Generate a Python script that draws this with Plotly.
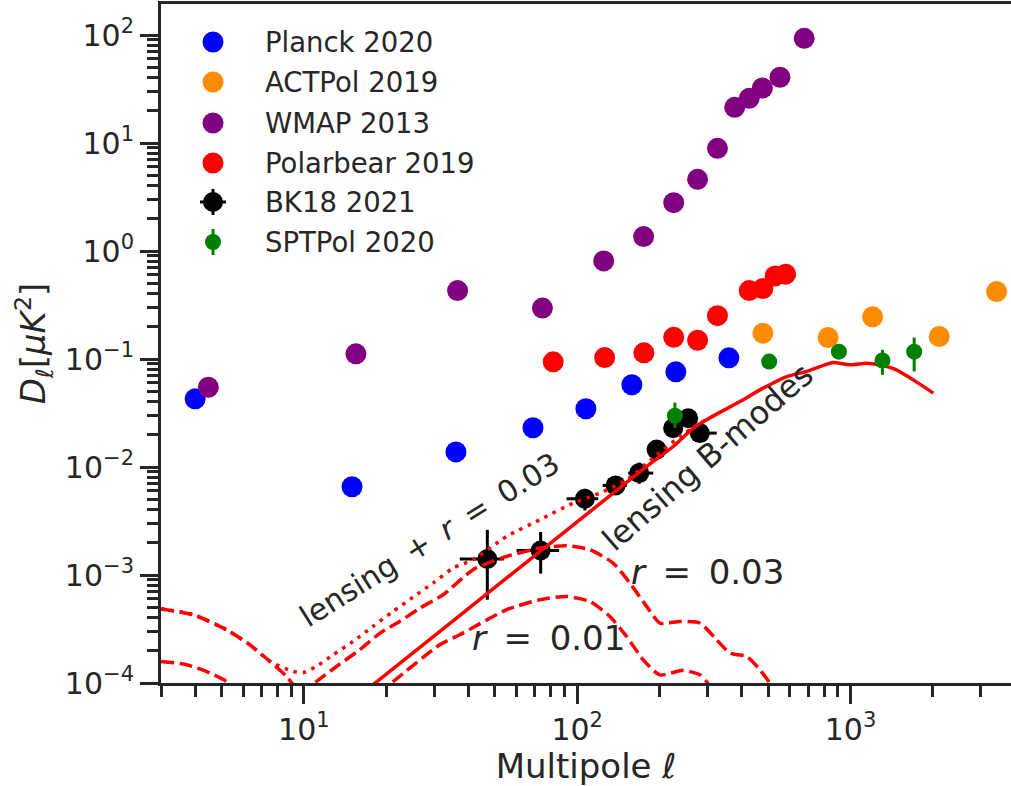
import numpy as np
import plotly.graph_objects as go

# ---------------- data ----------------
planck_l = [4.0, 15.0, 36.0, 68.9, 107.6, 158.5, 229.6, 359.0]
planck_d = [0.0428, 0.00656, 0.0138, 0.0231, 0.0346, 0.0577, 0.076, 0.1025]

act_l = [478, 828, 1205, 2112, 3425]
act_d = [0.1734, 0.158, 0.2455, 0.1614, 0.421]

wmap_l = [4.47, 15.5, 36.5, 74.6, 125, 175, 225.5, 275.7, 326, 377, 426, 476, 552, 677]
wmap_d = [0.0548, 0.1117, 0.430, 0.296, 0.809, 1.36, 2.80, 4.61, 8.93, 21.4, 25.9, 32.3, 40.6, 93.1]

pb_l = [81.7, 126, 175.4, 225.5, 275.7, 326, 426, 478, 530, 579]
pb_d = [0.0942, 0.1031, 0.114, 0.159, 0.149, 0.252, 0.430, 0.449, 0.588, 0.610]

bk_l = [46.9, 73.5, 106.7, 138.2, 168.6, 195.2, 224.5, 254.7, 281.0]
bk_d = [0.001405, 0.001686, 0.00508, 0.00675, 0.00878, 0.0145, 0.0229, 0.0283, 0.0206]
bk_d_lo = [0.00059, 0.00103, 0.00396, 0.0059, 0.00699, 0.0131, 0.0209, 0.0258, 0.0172]
bk_d_hi = [0.00262, 0.0025, 0.00628, 0.0077, 0.0110, 0.0162, 0.0251, 0.0310, 0.0246]
bk_l_lo = [37.2, 60.0, 91.4, 124.0, 153.7, 183.0, 212.0, 240.0, 258.0]
bk_l_hi = [53.9, 85.9, 119.4, 152.0, 189.7, 212.0, 240.0, 270.0, 324.0]

spt_l = [227.8, 504, 907, 1309, 1710]
spt_d = [0.0298, 0.0947, 0.117, 0.0968, 0.117]
spt_d_lo = [0.0230, 0.0890, 0.108, 0.0713, 0.0766]
spt_d_hi = [0.0395, 0.1005, 0.126, 0.1216, 0.158]

lens_l = [10, 18.5, 73.0, 135.4, 179.5, 224.5, 265.8, 297.5, 393.9,
          479, 584, 690, 773, 864, 996, 1146, 1278, 1471, 1697, 2010]
lens_d = [3.0e-5, 1.03e-4, 1.65e-3, 5.73e-3, 0.0101, 0.01548, 0.0229,
          0.02735, 0.0404, 0.0537, 0.0688, 0.0766, 0.0851, 0.0927, 0.0883, 0.0915,
          0.0883, 0.0793, 0.0641, 0.0483]

tot_l = [3.0, 3.94, 5.21, 6.34, 7.51, 9.14, 9.94, 11.1, 12.8, 15.15, 17.9, 21.2, 25.1,
         29.7, 35.2, 41.6, 55.2, 73.0, 96.7, 121, 151.6, 195.2, 240, 297.5]
tot_d = [4.88e-4, 4.28e-4, 3.11e-4, 2.26e-4, 1.585e-4, 1.28e-4, 1.25e-4, 1.42e-4, 1.83e-4,
         2.43e-4, 3.34e-4, 4.6e-4, 6.25e-4, 8.42e-4, 1.16e-3, 1.384e-3, 2.276e-3, 3.25e-3,
         4.63e-3, 5.73e-3, 7.61e-3, 0.0129, 0.0195, 0.0277]

r03_l = [3.0, 3.94, 5.21, 6.34, 7.51, 8.64, 9.8, 11.1, 13.2, 16.0, 19.0, 22.4, 26.6, 32.3,
         41.6, 55.2, 73.0, 91.5, 111.3, 135.4, 155.9, 179.5, 200.7, 237.6, 281, 323.6,
         362, 416.8, 466, 507, 600]
r03_d = [4.84e-4, 4.28e-4, 3.11e-4, 2.26e-4, 1.585e-4, 1.15e-4, 8.0e-5, 1.03e-4, 1.43e-4,
         2.03e-4, 2.9e-4, 3.71e-4, 4.94e-4, 6.56e-4, 1.12e-3, 1.486e-3, 1.776e-3, 1.866e-3,
         1.714e-3, 1.29e-3, 8.42e-4, 5.12e-4, 3.59e-4, 3.71e-4, 3.59e-4, 2.52e-4, 1.895e-4,
         1.76e-4, 1.327e-4, 1.0e-4, 5.0e-5]

r01_l = [3.0, 3.72, 4.53, 5.21, 7.0, 10.0, 15.0, 21.2, 31.4, 37.2, 55.2, 73.0, 91.5,
         111.3, 131.7, 151.6, 174.4, 200.7, 244.3, 281, 297.4, 350]
r01_d = [1.585e-4, 1.477e-4, 1.238e-4, 1.03e-4, 5.0e-5, 2.7e-5, 5.0e-5, 1.03e-4, 2.26e-4,
         2.8e-4, 4.77e-4, 5.9e-4, 6.33e-4, 5.69e-4, 4.13e-4, 2.7e-4, 1.64e-4, 1.19e-4,
         1.31e-4, 1.19e-4, 1.03e-4, 5.0e-5]

x_tick_vals = [10, 100, 1000]
x_tick_text = ["10<sup>1</sup>", "10<sup>2</sup>", "10<sup>3</sup>"]
y_tick_vals = [1e-4, 1e-3, 1e-2, 1e-1, 1e0, 1e1, 1e2]
y_tick_text = ["10<sup>−4</sup>", "10<sup>−3</sup>", "10<sup>−2</sup>", "10<sup>−1</sup>",
               "10<sup>0</sup>", "10<sup>1</sup>", "10<sup>2</sup>"]

legend_names = ["Planck 2020", "ACTPol 2019", "WMAP 2013", "Polarbear 2019", "BK18 2021", "SPTPol 2020"]
legend_colors = ["#0000ff", "#ff8c00", "#800080", "#ff0000", "black", "#008000"]

# ---------------- figure ----------------
INK = "#262626"
FONT = "DejaVu Sans"
W, H = 1011, 786
ML, MR, MT, MB = 161, 0, 4, 103
PW, PH = W - ML - MR, H - MT - MB

def px2paper(px, py):
    return (px - ML) / PW, (H - MB - py) / PH

x_minor = [m * 10 ** e for e in range(0, 4) for m in range(2, 10) if 3 <= m * 10 ** e <= 3870]
y_minor = [m * 10.0 ** e for e in range(-4, 3) for m in range(2, 10) if m * 10.0 ** e <= 190]

fig = go.Figure()

def dots(name, xs, ys, color):
    fig.add_trace(go.Scatter(x=xs, y=ys, mode="markers", name=name, showlegend=False,
                             marker=dict(color=color, size=21, line=dict(width=0))))

dots(legend_names[0], planck_l, planck_d, legend_colors[0])
dots(legend_names[1], act_l, act_d, legend_colors[1])
dots(legend_names[2], wmap_l, wmap_d, legend_colors[2])
dots(legend_names[3], pb_l, pb_d, legend_colors[3])

fig.add_trace(go.Scatter(
    x=bk_l, y=bk_d, mode="markers", name=legend_names[4], showlegend=False,
    marker=dict(color="black", size=20),
    error_y=dict(type="data", symmetric=False,
                 array=[h - v for h, v in zip(bk_d_hi, bk_d)],
                 arrayminus=[v - l for l, v in zip(bk_d_lo, bk_d)],
                 color="black", thickness=3, width=0),
    error_x=dict(type="data", symmetric=False,
                 array=[h - v for h, v in zip(bk_l_hi, bk_l)],
                 arrayminus=[v - l for l, v in zip(bk_l_lo, bk_l)],
                 color="black", thickness=3, width=0),
))

def curve(xs, ys, dash):
    fig.add_trace(go.Scatter(x=xs, y=ys, mode="lines", showlegend=False,
                             line=dict(color="#ff0000", width=3.5, dash=dash, shape="spline",
                                       smoothing=0.6),
                             hoverinfo="skip"))

curve(lens_l, lens_d, "solid")
curve(tot_l, tot_d, "3.5px,5.8px")
curve(r03_l, r03_d, "13px,5.6px")
curve(r01_l, r01_d, "13px,5.6px")

fig.add_trace(go.Scatter(
    x=spt_l, y=spt_d, mode="markers", name=legend_names[5], showlegend=False,
    marker=dict(color="#008000", size=16),
    error_y=dict(type="data", symmetric=False,
                 array=[h - v for h, v in zip(spt_d_hi, spt_d)],
                 arrayminus=[v - l for l, v in zip(spt_d_lo, spt_d)],
                 color="#008000", thickness=3, width=0),
))

# ---------------- legend (drawn as shapes + text for full-size symbols) ----------------
leg_x_px, leg_text_px = 213, 263
leg_rows_px = [42, 82, 123, 163, 202, 242]
for name, color, row in zip(legend_names, legend_colors, leg_rows_px):
    xa, ya = px2paper(leg_x_px, row)
    if name.startswith("BK18"):
        fig.add_shape(type="line", xref="paper", yref="paper", xsizemode="pixel",
                      ysizemode="pixel", xanchor=xa, yanchor=ya, x0=-13, x1=13, y0=0, y1=0,
                      line=dict(color=color, width=3))
        fig.add_shape(type="line", xref="paper", yref="paper", xsizemode="pixel",
                      ysizemode="pixel", xanchor=xa, yanchor=ya, x0=0, x1=0, y0=-13, y1=13,
                      line=dict(color=color, width=3))
        r = 10
    elif name.startswith("SPT"):
        fig.add_shape(type="line", xref="paper", yref="paper", xsizemode="pixel",
                      ysizemode="pixel", xanchor=xa, yanchor=ya, x0=0, x1=0, y0=-13, y1=13,
                      line=dict(color=color, width=3))
        r = 8
    else:
        r = 10.5
    fig.add_shape(type="circle", xref="paper", yref="paper", xsizemode="pixel",
                  ysizemode="pixel", xanchor=xa, yanchor=ya, x0=-r, x1=r, y0=-r, y1=r,
                  fillcolor=color, line=dict(width=0))
    tx, ty = px2paper(leg_text_px, row)
    fig.add_annotation(x=tx, y=ty, xref="paper", yref="paper", xanchor="left",
                       yanchor="middle", text=name, showarrow=False,
                       font=dict(family=FONT, size=27.5, color=INK))

x0, x1 = np.log10(3.0), 3.5873
y0, y1 = -4.0, 2.287

fig.update_xaxes(type="log", range=[x0, x1], showgrid=False, zeroline=False,
                 showline=True, linewidth=3, linecolor=INK, mirror=True,
                 ticks="outside", ticklen=18, tickwidth=3, tickcolor=INK,
                 tickvals=x_tick_vals, ticktext=x_tick_text,
                 tickfont=dict(family=FONT, size=30, color=INK),
                 minor=dict(tickvals=x_minor, ticks="outside", ticklen=11, tickwidth=2.5,
                            tickcolor=INK),
                 title=dict(text="Multipole <i>ℓ</i>", font=dict(family=FONT, size=34, color=INK),
                            standoff=0))
fig.update_yaxes(type="log", range=[y0, y1], showgrid=False, zeroline=False,
                 showline=True, linewidth=3, linecolor=INK, mirror=False,
                 ticks="outside", ticklen=18, tickwidth=3, tickcolor=INK,
                 tickvals=y_tick_vals, ticktext=y_tick_text,
                 tickfont=dict(family=FONT, size=30, color=INK),
                 minor=dict(tickvals=y_minor, ticks="outside", ticklen=11, tickwidth=2.5,
                            tickcolor=INK),
                 title=dict(text="<i>D</i><sub><i>ℓ</i></sub>[<i>μK</i><sup>2</sup>]",
                            font=dict(family=FONT, size=34, color=INK), standoff=9))

ann_font = dict(family=FONT, size=30, color=INK)
bmodes_font = dict(family=FONT, size=32, color=INK)
big_font = dict(family=FONT, size=34, color=INK)
TS = "\u2009"
fig.add_annotation(x=1.461, y=-2.674, xref="x", yref="y",
                   text="lensing " + TS + "+" + TS + " <i>r</i> " + TS + "=" + TS + " 0.03",
                   textangle=-32, showarrow=False, font=ann_font)
fig.add_annotation(x=2.478, y=-1.912, xref="x", yref="y", text="lensing B-modes",
                   textangle=-41, showarrow=False, font=bmodes_font)
fig.add_annotation(x=2.478, y=-2.970, xref="x", yref="y",
                   text="<i>r</i> " + TS + "=" + TS + " 0.03", showarrow=False, font=big_font)
fig.add_annotation(x=1.8965, y=-3.581, xref="x", yref="y",
                   text="<i>r</i> " + TS + "=" + TS + " 0.01", showarrow=False, font=big_font)

fig.update_layout(
    width=W, height=H,
    margin=dict(l=ML, r=MR, t=MT, b=MB),
    paper_bgcolor="white", plot_bgcolor="white",
    font=dict(family=FONT, color=INK),
    showlegend=False,
)

fig.write_html("out.html")
